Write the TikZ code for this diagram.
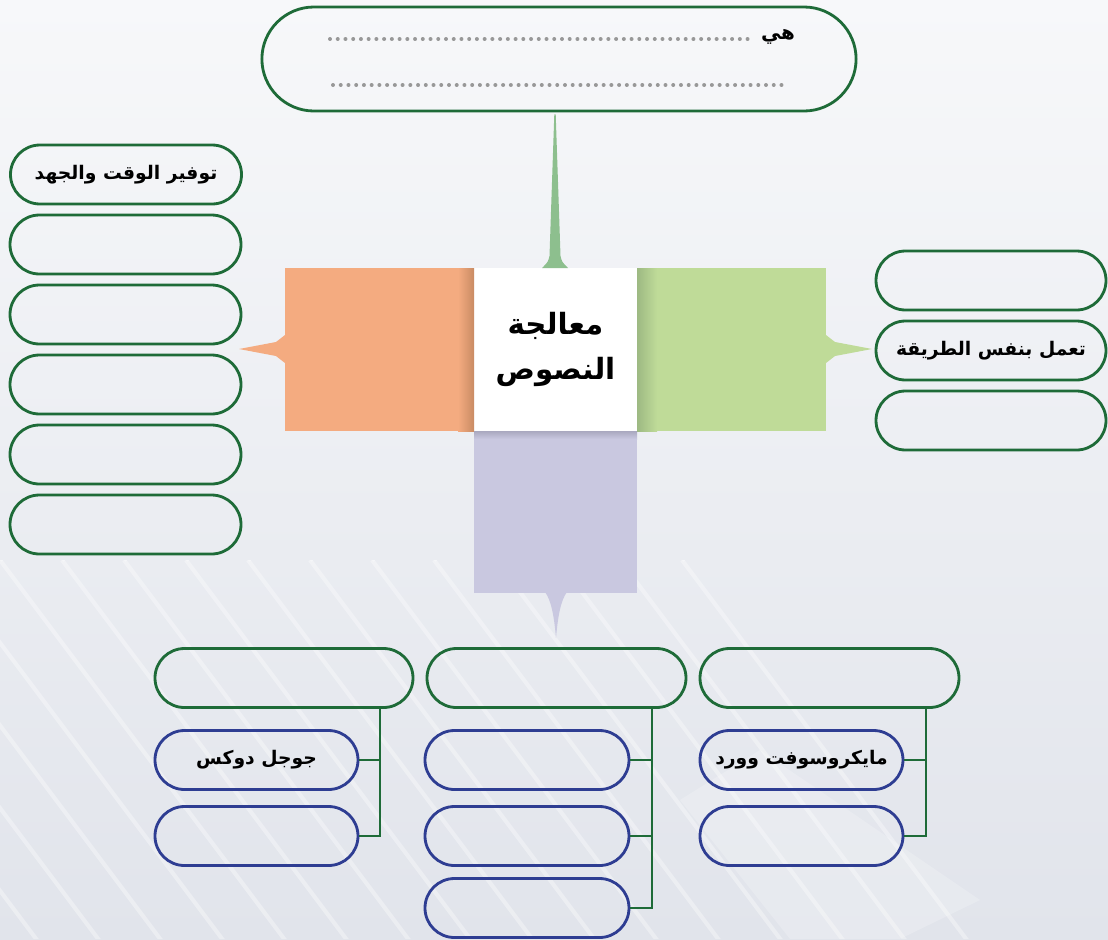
\documentclass[tikz,border=0pt]{standalone}
\usepackage{fontspec}
\usetikzlibrary{shapes.misc,calc}
\newfontfamily\arabicfont[Script=Arabic]{DejaVu Sans}
\TeXXeTstate=1
\definecolor{boxgreen}{HTML}{1E6B38}
\definecolor{boxblue}{HTML}{2E3D92}
\definecolor{orangefill}{HTML}{F4AB80}
\definecolor{orangedark}{HTML}{C98B63}
\definecolor{greenfill}{HTML}{BFDB98}
\definecolor{greendark}{HTML}{9DB983}
\definecolor{purplefill}{HTML}{C9C8E0}
\definecolor{purpledark}{HTML}{A9A8BF}
\definecolor{spikegreen}{HTML}{8DBF8E}
\definecolor{dotgray}{HTML}{989898}
\definecolor{bgtop}{HTML}{F7F8FA}
\definecolor{bgbot}{HTML}{E1E4EB}
\newcommand\artxt[1]{{\arabicfont\bfseries\beginR #1\endR}}
\begin{document}
\begin{tikzpicture}[x=0.03cm,y=-0.03cm,
  pillg/.style={rounded rectangle, draw=boxgreen, line width=2.4pt, minimum height=59*0.03cm, inner sep=0pt},
  pillb/.style={rounded rectangle, draw=boxblue, line width=2.4pt, minimum height=59*0.03cm, inner sep=0pt},
  pw/.style={minimum width=#1*0.03cm},
  lbl/.style={font=\fontsize{16}{19}\selectfont},
  dots/.style={draw=dotgray, line width=3.4pt, line cap=round, dash pattern=on 0pt off 6.6pt},
  conn/.style={draw=boxgreen, line width=2pt},
  block/.style={inner sep=0pt, outer sep=0pt, minimum height=163*0.03cm}
]
\useasboundingbox (0,0) rectangle (1108,939);
% background
\shade[top color=bgtop, bottom color=bgbot] (0,0) rectangle (1108,939);
\begin{scope}
  \clip (0,560) -- (700,560) -- (1000,939) -- (0,939) -- cycle;
  \foreach \i in {-12,...,16} {
    \draw[white, line width=3.5pt, opacity=0.35] (\i*62,560) -- ++(520,-380);
    \draw[white, line width=3.5pt, opacity=0.35] (\i*62,560) -- ++(420,560);
  }
\end{scope}
\fill[white, opacity=0.2] (680,800) -- (760,750) -- (980,900) -- (900,939) -- (790,939) -- cycle;

% top box
\node[rounded rectangle, draw=boxgreen, line width=2.4pt, minimum width=602*0.03cm, minimum height=104*0.03cm] (top) at (559,59) {};
\node[lbl, font=\fontsize{17}{20}\selectfont] (hi) at (778,37) {\artxt{هي}};
\draw[dots] (330,39) -- (754,39);
\draw[dots] (333,85) -- (786,85);

% centre blocks
\node[block, fill=white, minimum width=163*0.03cm, align=center, font=\fontsize{25}{39}\selectfont] (center) at (555.5,349.5) {\artxt{معالجة}\\\artxt{النصوص}};
\node[block, fill=orangefill, minimum width=189*0.03cm, anchor=east] (orangebox) at (center.west) {};
\node[block, fill=greenfill, minimum width=189*0.03cm, anchor=west] (greenbox) at (center.east) {};
\node[block, fill=purplefill, minimum width=163*0.03cm, minimum height=162*0.03cm, anchor=north] (purplebox) at (center.south) {};
\shade[left color=orangefill, right color=orangedark] ($(orangebox.north east)+(-16,0)$) rectangle (orangebox.south east);
\shade[left color=greendark, right color=greenfill] (greenbox.north west) rectangle ($(greenbox.south west)+(20,0)$);
\shade[top color=purpledark, bottom color=purplefill] (purplebox.north west) rectangle ($(purplebox.north east)+(0,8)$);

% pointers
\fill[spikegreen] ($(top.south)+(-4.7,2)$) -- ($(top.south)+(-3.3,2)$) -- (560.5,256) .. controls (562,262) .. (568,268) -- (542,268) .. controls (548,262) .. (549.5,256) -- cycle;
\fill[orangefill] (285,335) -- (276,342) -- (239,349) -- (276,356) -- (285,363) -- cycle;
\fill[greenfill] (826,335) -- (835,342) -- (872,349) -- (835,356) -- (826,363) -- cycle;
\fill[purplefill] (545,592) .. controls (551,600) and (554,615) .. (556,638) .. controls (558,615) and (561,600) .. (567,592) -- cycle;

% left column
\node[pillg, pw=231, lbl] (L1) at (126,174.5) {\artxt{توفير الوقت والجهد}};
\node[pillg, pw=231] (L2) at (125.5,244.5) {};
\node[pillg, pw=231] (L3) at (125.5,314.5) {};
\node[pillg, pw=231] (L4) at (125.5,384.5) {};
\node[pillg, pw=231] (L5) at (125.5,454.5) {};
\node[pillg, pw=231] (L6) at (125.5,524.5) {};

% right column
\node[pillg, pw=230] (R1) at (991,280.5) {};
\node[pillg, pw=230, lbl] (R2) at (991,350.5) {\artxt{تعمل بنفس الطريقة}};
\node[pillg, pw=230] (R3) at (991,420.5) {};

% bottom group A
\node[pillg, pw=258] (gA) at (284,678) {};
\node[pillb, pw=203, lbl] (bA1) at (256.5,760) {\artxt{جوجل دوكس}};
\node[pillb, pw=203] (bA2) at (256.5,836) {};
\coordinate (jA) at (380,0);
\draw[conn] (gA.south -| jA) |- (bA2.east);
\draw[conn] (gA.south -| jA) |- (bA1.east);

% bottom group B
\node[pillg, pw=259] (gB) at (556.5,678) {};
\node[pillb, pw=204] (bB1) at (527,760) {};
\node[pillb, pw=204] (bB2) at (527,836) {};
\node[pillb, pw=204] (bB3) at (527,908) {};
\coordinate (jB) at (652,0);
\draw[conn] (gB.south -| jB) |- (bB3.east);
\draw[conn] (gB.south -| jB) |- (bB2.east);
\draw[conn] (gB.south -| jB) |- (bB1.east);

% bottom group C
\node[pillg, pw=259] (gC) at (829.5,678) {};
\node[pillb, pw=203, lbl] (bC1) at (801.5,760) {\artxt{مايكروسوفت وورد}};
\node[pillb, pw=203] (bC2) at (801.5,836) {};
\coordinate (jC) at (926,0);
\draw[conn] (gC.south -| jC) |- (bC2.east);
\draw[conn] (gC.south -| jC) |- (bC1.east);
\end{tikzpicture}
\end{document}
